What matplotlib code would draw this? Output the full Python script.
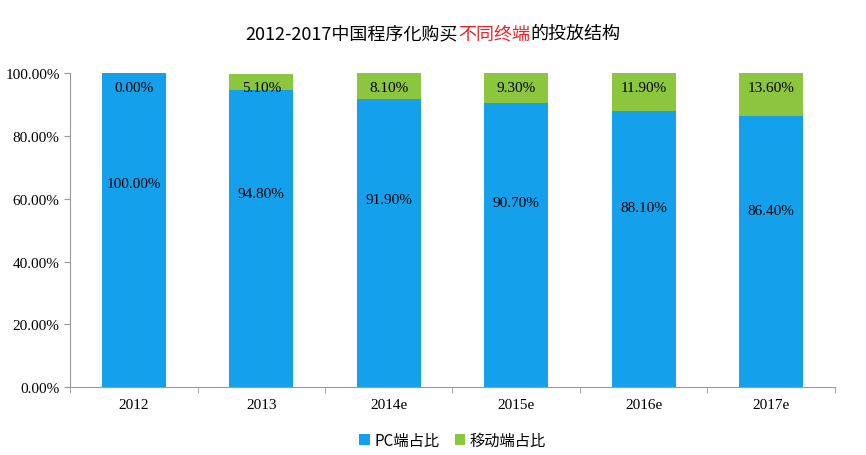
import numpy as np
import matplotlib
matplotlib.use("Agg")
from matplotlib import pyplot as plt

years = ["2012", "2013", "2014e", "2015e", "2016e", "2017e"]
pc = [100.0, 94.8, 91.9, 90.7, 88.1, 86.4]
mobile = [0.0, 5.1, 8.1, 9.3, 11.9, 13.6]

blue = "#14a0ea"
green = "#8cc63e"
serif = "Liberation Serif"
cjk = ["Noto Sans CJK JP", "Noto Sans CJK SC", "Noto Sans CJK TC", "DejaVu Sans"]

fig = plt.figure(figsize=(8.66, 4.56), dpi=100)
ax = fig.add_axes([0.081, 0.149, 0.883, 0.688])

x = np.arange(len(years))
ax.bar(x, pc, width=0.5, color=blue, label="PC端占比")
ax.bar(x, mobile, width=0.5, bottom=pc, color=green, label="移动端占比")

for i in range(len(years)):
    ax.text(x[i], pc[i] * 0.65, "%.2f%%" % pc[i], ha="center", va="center",
            fontsize=11, family=serif)
    ax.text(x[i], 95.6, "%.2f%%" % mobile[i], ha="center", va="center",
            fontsize=11, family=serif)

ax.set_xlim(-0.5, len(years) - 0.5)
ax.set_ylim(0, 100)
ax.set_yticks(np.arange(0, 101, 20))
ax.set_yticklabels(["%.2f%%" % v for v in np.arange(0, 101, 20)], family=serif, fontsize=11)
ax.set_xticks(x)
ax.set_xticklabels(years, family=serif, fontsize=11)
ax.set_xticks(np.arange(-0.5, len(years), 1), minor=True)
ax.tick_params(axis="x", which="major", length=0, pad=8)
ax.tick_params(axis="x", which="minor", length=4, color="#999999")
ax.tick_params(axis="y", length=4, color="#999999")
for s in ["top", "right"]:
    ax.spines[s].set_visible(False)
for s in ["left", "bottom"]:
    ax.spines[s].set_color("#999999")

leg = ax.legend(loc="upper center", bbox_to_anchor=(0.5, -0.1), ncol=2, frameon=False,
                prop={"family": cjk, "size": 11}, handlelength=0.7, handleheight=0.7,
                columnspacing=1.0, handletextpad=0.3)

# title with a red middle part
parts = [("2012-2017中国程序化购买", "black"), ("不同终端", "#e8242a"), ("的投放结构", "black")]
fig.canvas.draw()
r = fig.canvas.get_renderer()
texts = [fig.text(0, 0.925, p, color=c, fontsize=13, family=cjk, va="center") for p, c in parts]
widths = [t.get_window_extent(r).width / fig.bbox.width for t in texts]
start = 0.5 - sum(widths) / 2
for t, w in zip(texts, widths):
    t.set_x(start)
    start += w

plt.savefig("out.png", dpi=100)
